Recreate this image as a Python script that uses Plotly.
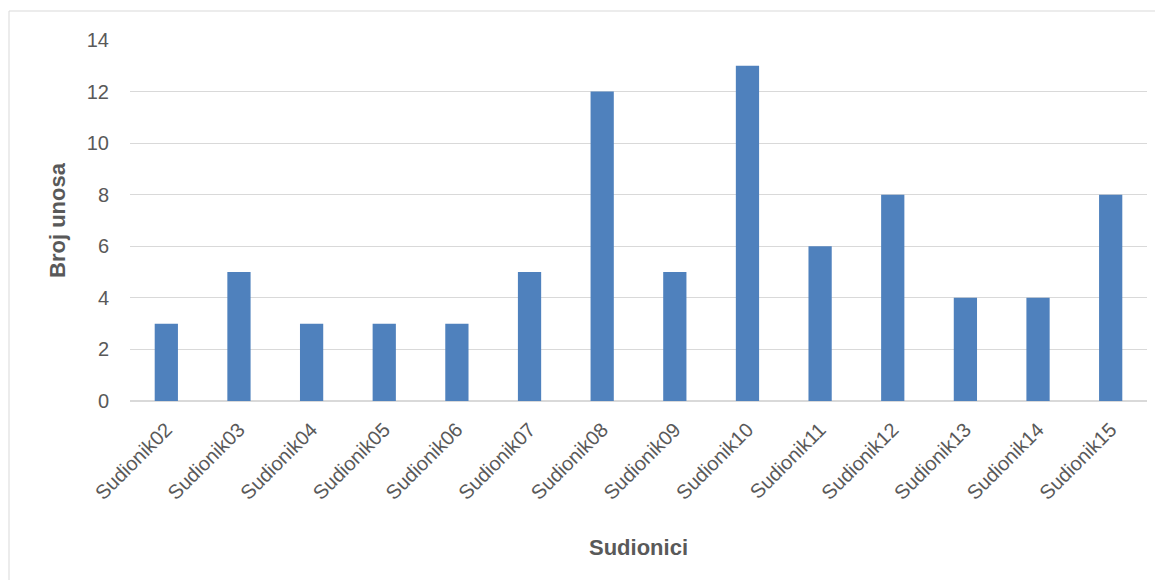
import plotly.graph_objects as go

categories = ["Sudionik02", "Sudionik03", "Sudionik04", "Sudionik05", "Sudionik06",
              "Sudionik07", "Sudionik08", "Sudionik09", "Sudionik10", "Sudionik11",
              "Sudionik12", "Sudionik13", "Sudionik14", "Sudionik15"]
values = [3, 5, 3, 3, 3, 5, 12, 5, 13, 6, 8, 4, 4, 8]
y_ticks = [0, 2, 4, 6, 8, 10, 12, 14]

# page body has an 8px margin, so the figure is 8px smaller than the window
W, H = 1155, 572
L, R, T, B = 122, 16, 32, 179
pw, ph = W - L - R, H - T - B

def px(x):
    return (x - L) / pw

def py(y):
    return (H - B - y) / ph

fig = go.Figure(go.Bar(x=categories, y=values, marker=dict(color="#4F81BD", line=dict(width=0))))

fig.update_layout(
    width=W, height=H,
    margin=dict(l=L, r=R, t=T, b=B),
    plot_bgcolor="white", paper_bgcolor="white",
    bargap=0.68,
    showlegend=False,
    font=dict(family="Liberation Sans, Arial, sans-serif", color="#595959"),
    xaxis=dict(
        tickangle=-45, tickfont=dict(size=20, color="#595959"),
        showgrid=False, showline=True, linecolor="#D9D9D9", linewidth=1,
        ticks="", ticklabelstandoff=8,
        title=dict(text="<b>Sudionici</b>", font=dict(size=22, color="#595959"), standoff=36),
    ),
    yaxis=dict(
        range=[0, 14], tickvals=y_ticks, tickfont=dict(size=20, color="#595959"),
        showgrid=True, gridcolor="#D9D9D9", gridwidth=1, zeroline=True, zerolinecolor="#D9D9D9",
        ticks="", ticklabelstandoff=20,
        title=dict(text="<b>Broj unosa</b>", font=dict(size=22, color="#595959"), standoff=15),
    ),
    shapes=[dict(type="rect", xref="paper", yref="paper",
                 x0=px(1), x1=px(W + 10), y0=py(H + 10), y1=py(3),
                 line=dict(color="#D9D9D9", width=1), fillcolor="rgba(0,0,0,0)", layer="below")],
)

fig.write_html("out.html")
